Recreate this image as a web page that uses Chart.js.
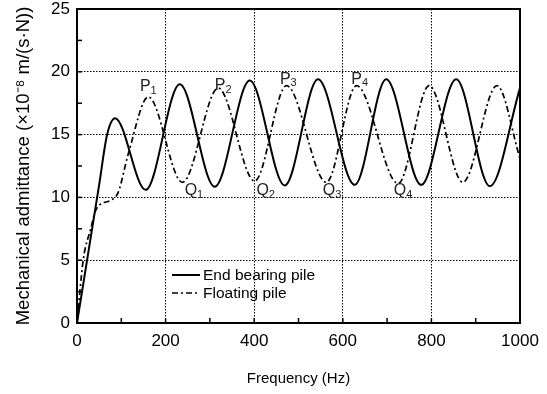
<!DOCTYPE html>
<html>
<head>
<meta charset="utf-8">
<script src="https://cdn.jsdelivr.net/npm/chart.js@4.4.0/dist/chart.umd.min.js"></script>
<style>
  html, body { margin: 0; padding: 0; background: #fff; }
  #wrap { width: 547px; height: 394px; position: relative; }
</style>
</head>
<body>
<div id="wrap"><canvas id="admChart"></canvas></div>
<script>
// pieu en pointe (trait plein)
const freqEnd = [0, 25, 50, 68, 86, 155, 232, 311, 390, 469, 544, 627, 698, 777, 856, 932, 1000];
const admEnd  = [0, 5.5, 11, 15, 16.3, 10.6, 19.0, 10.85, 19.3, 10.95, 19.4, 11.0, 19.4, 11.0, 19.4, 10.9, 18.7];

// pieu flottant (trait mixte)
const freqFloat = [0, 14, 31, 44, 78, 93, 116, 161, 238, 319, 401, 473, 563, 631, 725, 795, 871, 948, 1000];
const admFloat  = [0, 5, 7.5, 9.1, 9.8, 10.4, 13.5, 18.0, 11.2, 18.7, 11.3, 18.9, 11.2, 18.9, 11.1, 18.9, 11.2, 18.9, 13.1];

// etiquettes P / Q (pics et creux du pieu flottant)
const peakNames  = ['1', '2', '3', '4'];
const peakFreq   = [142, 311, 458, 619];
const peakAdm    = [18.8, 18.9, 19.4, 19.4];
const troughFreq = [243, 405, 555, 715];
const troughAdm  = [10.55, 10.55, 10.55, 10.55];

const xTicks = [0, 200, 400, 600, 800, 1000];
const yTicks = [0, 5, 10, 15, 20, 25];

const seriesNames = ['End bearing pile', 'Floating pile'];

const FONT = 'Liberation Sans, Arial, sans-serif';

// cadre + petites graduations vers l'interieur
const frameTicks = {
  id: 'frameTicks',
  afterDraw(chart) {
    const { ctx, chartArea: a, scales: { x, y } } = chart;
    ctx.save();
    ctx.strokeStyle = '#000';
    ctx.lineWidth = 1.5;
    for (let v = 100; v < 1000; v += 100) {
      const px = x.getPixelForValue(v);
      ctx.beginPath(); ctx.moveTo(px, a.bottom); ctx.lineTo(px, a.bottom - 5); ctx.stroke();
    }
    for (let v = 2.5; v < 25; v += 2.5) {
      const py = y.getPixelForValue(v);
      ctx.beginPath(); ctx.moveTo(a.left, py); ctx.lineTo(a.left + 5, py); ctx.stroke();
    }
    ctx.lineWidth = 2;
    ctx.strokeRect(a.left, a.top, a.right - a.left, a.bottom - a.top);

    // labels P et Q
    ctx.fillStyle = '#222';
    ctx.textBaseline = 'middle';
    const drawSub = (letter, sub, fx, fy) => {
      const px = x.getPixelForValue(fx);
      const py = y.getPixelForValue(fy);
      ctx.font = '16px ' + FONT;
      ctx.textAlign = 'left';
      ctx.fillText(letter, px, py);
      const w = ctx.measureText(letter).width;
      ctx.font = '11px ' + FONT;
      ctx.fillText(sub, px + w, py + 4);
    };
    peakNames.forEach((n, i) => {
      drawSub('P', n, peakFreq[i], peakAdm[i]);
      drawSub('Q', n, troughFreq[i], troughAdm[i]);
    });

    // legende
    const lx = a.left + 95, ly = a.top + 266;
    chart.data.datasets.forEach((ds, i) => {
      const yy = ly + i * 18;
      ctx.strokeStyle = '#000';
      ctx.lineWidth = ds.borderWidth;
      ctx.setLineDash(ds.borderDash || []);
      ctx.beginPath(); ctx.moveTo(lx, yy); ctx.lineTo(lx + 28, yy); ctx.stroke();
      ctx.setLineDash([]);
      ctx.font = '15.5px ' + FONT;
      ctx.fillStyle = '#000';
      ctx.textAlign = 'left';
      ctx.fillText(ds.label, lx + 31, yy + 1);
    });
    ctx.restore();
  }
};

new Chart(document.getElementById('admChart'), {
  type: 'line',
  data: {
    datasets: [{
      label: seriesNames[0],
      data: freqEnd.map((f, i) => ({ x: f, y: admEnd[i] })),
      borderColor: '#000',
      borderWidth: 2,
      pointRadius: 0,
      cubicInterpolationMode: 'monotone'
    }, {
      label: seriesNames[1],
      data: freqFloat.map((f, i) => ({ x: f, y: admFloat[i] })),
      borderColor: '#000',
      borderWidth: 1.7,
      borderDash: [6, 3, 2, 3],
      pointRadius: 0,
      cubicInterpolationMode: 'monotone'
    }]
  },
  options: {
    responsive: true,
    maintainAspectRatio: false,
    animation: false,
    layout: { padding: { top: 9, right: 27, left: 0, bottom: 0 } },
    plugins: { legend: { display: false }, tooltip: { enabled: false } },
    scales: {
      x: {
        type: 'linear',
        min: 0, max: 1000,
        afterBuildTicks: s => { s.ticks = xTicks.map(v => ({ value: v })); },
        afterFit: s => { s.height = 71; s.paddingLeft = 0; s.paddingRight = 0; },
        grid: { color: '#000', lineWidth: 1, drawTicks: false },
        border: { display: true, color: '#000', width: 2, dash: [1.5, 1.5] },
        ticks: { color: '#000', padding: 8, font: { family: FONT, size: 17 }, callback: v => String(v) },
        title: { display: true, text: 'Frequency (Hz)', color: '#000', padding: { top: 4, bottom: 6 }, font: { family: FONT, size: 15 } }
      },
      y: {
        min: 0, max: 25,
        afterBuildTicks: s => { s.ticks = yTicks.map(v => ({ value: v })); },
        afterFit: s => { s.width = 77; s.paddingTop = 0; s.paddingBottom = 0; },
        grid: { color: '#000', lineWidth: 1, drawTicks: false },
        border: { display: true, color: '#000', width: 2, dash: [1.5, 1.5] },
        ticks: { color: '#000', padding: 7, font: { family: FONT, size: 17 }, callback: v => String(v) },
        title: { display: true, text: 'Mechanical admittance (×10⁻⁸ m/(s·N))', color: '#000', padding: { top: 13 }, font: { family: FONT, size: 18.5 } }
      }
    }
  },
  plugins: [frameTicks]
});
</script>
</body>
</html>
